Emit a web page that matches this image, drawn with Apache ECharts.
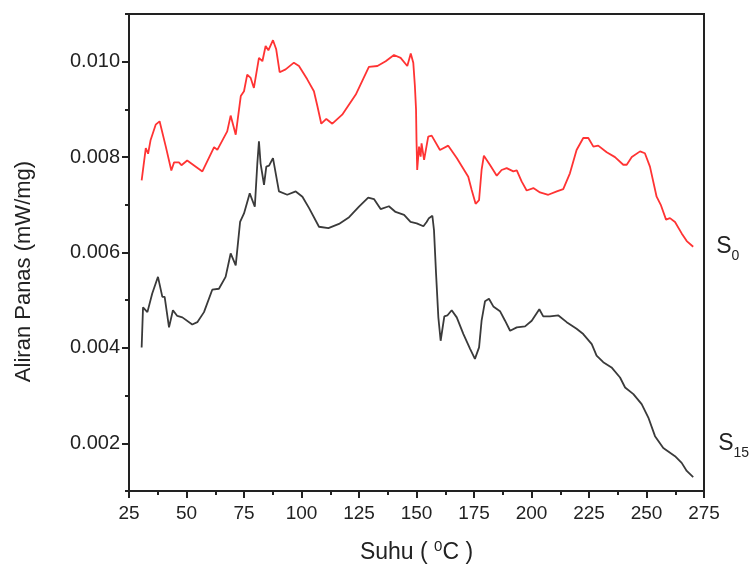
<!DOCTYPE html>
<html>
<head>
<meta charset="utf-8">
<script src="https://cdn.jsdelivr.net/npm/echarts@6/dist/echarts.min.js"></script>
<style>
  html, body { margin: 0; padding: 0; background: #fff; }
  #chart { width: 751px; height: 567px; }
</style>
</head>
<body>
<div id="chart"></div>
<script>
// S0 (merah)
const s0Temp = [30.5, 32.3, 33.3, 34.4, 36.6, 38.3, 41.0, 43.4, 44.6, 46.7, 47.8, 50.3, 56.9, 62.0, 63.4, 67.7, 69.2, 71.4, 73.6, 75.0,
  76.4, 77.9, 79.3, 81.5, 83.0, 84.4, 85.6, 87.6, 89.0, 90.5, 93.1, 96.7, 98.9, 102.5, 105.4, 106.9, 108.6, 110.8, 113.4, 117.7,
  123.6, 129.3, 133.0, 136.6, 140.2, 143.1, 146.0, 147.5, 148.6, 149.3, 149.8, 150.0, 150.3, 151.1, 151.8, 152.2, 153.3, 155.1, 156.6, 160.2,
  163.8, 167.5, 172.5, 174.0, 175.7, 177.2, 178.3, 179.3, 181.9, 184.9, 187.0, 189.2, 192.1, 193.6, 195.7, 197.9, 200.8, 203.7, 207.3, 211.0,
  213.8, 216.7, 219.6, 222.5, 224.7, 226.9, 229.0, 232.7, 236.3, 239.9, 241.4, 243.6, 247.2, 249.3, 251.5, 254.4, 256.2, 258.5, 260.2, 262.4,
  265.3, 267.5, 270.3];
const s0Flow = [0.00751, 0.00819, 0.00807, 0.00836, 0.00868, 0.00875, 0.00822, 0.00772, 0.00789, 0.00789, 0.00783, 0.00793, 0.00770, 0.00821, 0.00815, 0.00854, 0.00887, 0.00847, 0.00928, 0.00938,
  0.00973, 0.00966, 0.00945, 0.01008, 0.01001, 0.01033, 0.01024, 0.01045, 0.01026, 0.00978, 0.00984, 0.00998, 0.00991, 0.00963, 0.00938, 0.00907, 0.00870, 0.00880, 0.00870, 0.00889,
  0.00931, 0.00989, 0.00991, 0.01001, 0.01014, 0.01008, 0.00991, 0.01017, 0.00998, 0.00949, 0.00900, 0.00836, 0.00773, 0.00822, 0.00801, 0.00829, 0.00794, 0.00843, 0.00845, 0.00815,
  0.00824, 0.00798, 0.00759, 0.00731, 0.00702, 0.00710, 0.00773, 0.00803, 0.00784, 0.00761, 0.00773, 0.00777, 0.00770, 0.00772, 0.00749, 0.00730, 0.00735, 0.00726, 0.00721, 0.00728,
  0.00733, 0.00766, 0.00815, 0.00840, 0.00840, 0.00822, 0.00824, 0.00810, 0.00800, 0.00784, 0.00784, 0.00800, 0.00812, 0.00808, 0.00780, 0.00717, 0.00700, 0.00669, 0.00672, 0.00664,
  0.00640, 0.00624, 0.00612];

// S15 (hitam)
const s15Temp = [30.5, 31.1, 33.0, 35.1, 37.6, 39.5, 40.5, 42.4, 44.1, 46.0, 48.2, 52.5, 54.7, 57.6, 61.2, 64.1, 67.0, 69.2, 71.4, 73.3,
  75.0, 77.5, 79.7, 80.8, 81.5, 82.2, 83.7, 84.7, 85.9, 87.6, 90.2, 93.8, 97.5, 100.4, 103.3, 107.6, 111.7, 116.3, 120.7, 125.0,
  129.0, 131.5, 134.4, 138.0, 140.9, 144.6, 147.4, 150.1, 153.0, 154.4, 155.4, 156.9, 157.6, 158.5, 159.5, 160.5, 161.2, 162.1, 163.4, 165.3,
  167.5, 170.4, 173.3, 175.4, 177.2, 178.3, 179.8, 181.5, 183.4, 186.3, 188.5, 190.7, 193.6, 197.2, 200.1, 203.4, 205.1, 208.0, 211.7, 215.3,
  219.6, 222.5, 226.2, 228.3, 231.2, 234.8, 238.5, 240.7, 244.3, 247.9, 250.8, 253.7, 257.3, 262.4, 265.3, 267.5, 270.3];
const s15Flow = [0.00401, 0.00485, 0.00475, 0.00514, 0.00549, 0.00507, 0.00507, 0.00443, 0.00479, 0.00467, 0.00464, 0.00449, 0.00454, 0.00475, 0.00522, 0.00524, 0.00549, 0.00598, 0.00573, 0.00664,
  0.00682, 0.00724, 0.00696, 0.00787, 0.00833, 0.00787, 0.00742, 0.00780, 0.00782, 0.00798, 0.00728, 0.00721, 0.00728, 0.00717, 0.00693, 0.00654, 0.00651, 0.00660, 0.00674, 0.00696,
  0.00715, 0.00712, 0.00691, 0.00697, 0.00685, 0.00679, 0.00664, 0.00661, 0.00655, 0.00664, 0.00672, 0.00677, 0.00647, 0.00556, 0.00464, 0.00415, 0.00417, 0.00466, 0.00468, 0.00479,
  0.00464, 0.00429, 0.00398, 0.00377, 0.00401, 0.00457, 0.00498, 0.00503, 0.00487, 0.00477, 0.00457, 0.00436, 0.00443, 0.00445, 0.00457, 0.00481, 0.00466, 0.00466, 0.00468, 0.00454,
  0.00440, 0.00429, 0.00408, 0.00384, 0.00370, 0.00359, 0.00338, 0.00317, 0.00303, 0.00282, 0.00254, 0.00215, 0.00190, 0.00173, 0.00159, 0.00142, 0.00129];

const yLabelValues = [0.002, 0.004, 0.006, 0.008, 0.010];

const zip = (xs, ys) => xs.map((x, i) => [x, ys[i]]);
const font = "'Liberation Sans', Arial, sans-serif";

const chart = echarts.init(document.getElementById("chart"));
chart.setOption({
  backgroundColor: "#fff",
  animation: false,
  grid: {
    left: 129,
    right: 47,
    top: 14,
    bottom: 76,
    outerBoundsMode: "none",
    show: true,
    borderColor: "#222",
    borderWidth: 2
  },
  xAxis: {
    type: "value",
    min: 25,
    max: 275,
    interval: 25,
    name: "{m|Suhu ( }{sup|0}{m|C )}",
    nameLocation: "middle",
    nameGap: 48,
    nameTextStyle: {
      color: "#222",
      fontFamily: font,
      fontSize: 23,
      rich: {
        m: { fontSize: 23, lineHeight: 28, fontFamily: font, color: "#222" },
        sup: { fontSize: 15, lineHeight: 12, verticalAlign: "top", fontFamily: font, color: "#222" }
      }
    },
    splitLine: { show: false },
    axisLine: { lineStyle: { color: "#222", width: 2 } },
    axisTick: { length: 7, lineStyle: { color: "#222", width: 2 } },
    minorTick: { show: true, splitNumber: 2, length: 4, lineStyle: { color: "#222", width: 2 } },
    axisLabel: { color: "#222", fontFamily: font, fontSize: 19, margin: 13 }
  },
  yAxis: [
    {
      type: "value",
      min: 0.001,
      max: 0.011,
      name: "Aliran Panas (mW/mg)",
      nameLocation: "middle",
      nameGap: 94,
      nameTextStyle: { color: "#222", fontFamily: font, fontSize: 22, padding: [0, 38, 0, 0] },
      splitLine: { show: false },
      axisLine: { show: true, lineStyle: { color: "#222", width: 2 } },
      axisTick: { customValues: yLabelValues, length: 7, lineStyle: { color: "#222", width: 2 } },
      axisLabel: {
        customValues: yLabelValues,
        color: "#222",
        fontFamily: font,
        fontSize: 20,
        margin: 9,
        formatter: (v) => v.toFixed(3)
      }
    },
    {
      type: "value",
      position: "left",
      min: 0.001,
      max: 0.011,
      interval: 0.001,
      splitLine: { show: false },
      axisLine: { show: false },
      axisTick: { length: 4, lineStyle: { color: "#222", width: 2 } },
      axisLabel: { show: false }
    }
  ],
  series: [
    {
      name: "S0",
      type: "line",
      data: zip(s0Temp, s0Flow),
      showSymbol: false,
      lineStyle: { color: "#ff3333", width: 1.8 },
      endLabel: {
        show: true,
        offset: [15, 0],
        formatter: "{s|S}{sub|0}",
        rich: {
          s: { fontSize: 23, lineHeight: 33, fontFamily: font, color: "#222" },
          sub: { fontSize: 14, lineHeight: 14, verticalAlign: "bottom", fontFamily: font, color: "#222" }
        }
      }
    },
    {
      name: "S15",
      type: "line",
      data: zip(s15Temp, s15Flow),
      showSymbol: false,
      lineStyle: { color: "#3a3a3a", width: 1.8 },
      endLabel: {
        show: true,
        offset: [17, -34],
        formatter: "{s|S}{sub|15}",
        rich: {
          s: { fontSize: 23, lineHeight: 33, fontFamily: font, color: "#222" },
          sub: { fontSize: 14, lineHeight: 14, verticalAlign: "bottom", fontFamily: font, color: "#222" }
        }
      }
    }
  ]
});
</script>
</body>
</html>
